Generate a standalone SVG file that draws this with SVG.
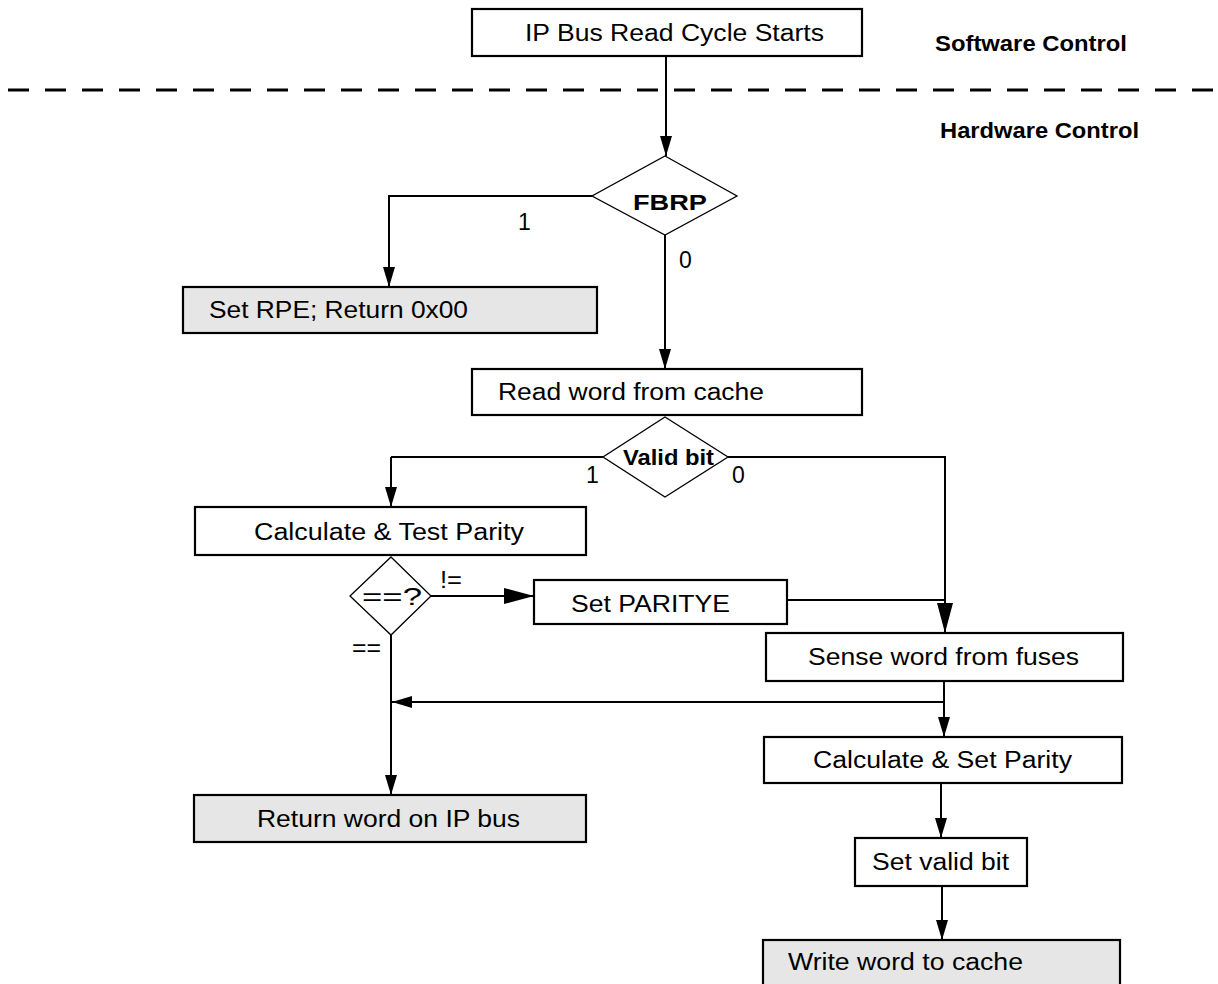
<svg xmlns="http://www.w3.org/2000/svg" width="1218" height="984" viewBox="0 0 1218 984">
<style>
.box{fill:#ffffff;stroke:#000;stroke-width:2.2}
.gray{fill:#e6e6e6;stroke:#000;stroke-width:2.2}
.dia{fill:#ffffff;stroke:#000;stroke-width:1.3}
.c{fill:none;stroke:#000;stroke-width:2}
.t{font-family:"Liberation Sans",Arial,sans-serif;font-size:23px;fill:#000}
.b{font-family:"Liberation Sans",Arial,sans-serif;font-size:22px;font-weight:bold;fill:#000}
</style>
<defs>
<marker id="a" markerUnits="userSpaceOnUse" markerWidth="20" markerHeight="12" refX="20" refY="6" orient="auto"><path d="M0,0 L20,6 L0,12 z" fill="#000"/></marker>
<marker id="A" markerUnits="userSpaceOnUse" markerWidth="30" markerHeight="16" refX="30" refY="8" orient="auto"><path d="M0,0 L30,8 L0,16 z" fill="#000"/></marker>
</defs>
<rect width="1218" height="984" fill="#fff"/>
<line x1="8" y1="90" x2="1218" y2="90" stroke="#000" stroke-width="3" stroke-dasharray="21 16"/>
<text class="b" x="935" y="51" textLength="192" lengthAdjust="spacingAndGlyphs">Software Control</text>
<text class="b" x="940" y="138" textLength="199" lengthAdjust="spacingAndGlyphs">Hardware Control</text>
<g id="connectors">
<path class="c" d="M666,56 V156" marker-end="url(#a)"/>
<path class="c" d="M592,196 H389 V287" marker-end="url(#a)"/>
<path class="c" d="M665,235 V369" marker-end="url(#a)"/>
<path class="c" d="M603,457 H391" stroke-width="1.3"/>
<path class="c" d="M391,457 V507" marker-end="url(#a)"/>
<path class="c" d="M728,457 H945 V633" marker-end="url(#A)"/>
<path class="c" d="M431,596 H534" marker-end="url(#A)"/>
<path class="c" d="M787,600 H945"/>
<path class="c" d="M944,681 V737" marker-end="url(#a)"/>
<path class="c" d="M944,702 H392" marker-end="url(#a)"/>
<path class="c" d="M391,635 V795" marker-end="url(#a)"/>
<path class="c" d="M941,783 V838" marker-end="url(#a)"/>
<path class="c" d="M942,886 V940" marker-end="url(#a)"/>
<text class="t" x="518" y="230">1</text>
<text class="t" x="679" y="268">0</text>
<text class="t" x="586" y="483">1</text>
<text class="t" x="732" y="483">0</text>
<text class="t" x="440" y="588" textLength="22" lengthAdjust="spacingAndGlyphs">!=</text>
<text class="t" x="352" y="656" textLength="29" lengthAdjust="spacingAndGlyphs">==</text>
</g>
<g id="start"><rect class="box" x="472" y="9" width="390" height="47"/><text class="t" x="525" y="41" textLength="299" lengthAdjust="spacingAndGlyphs">IP Bus Read Cycle Starts</text></g>
<g id="fbrp"><polygon class="dia" points="665,156 737,196 665,235 592,196"/><text class="b" x="633" y="210" textLength="74" lengthAdjust="spacingAndGlyphs">FBRP</text></g>
<g id="setrpe"><rect class="gray" x="183" y="287" width="414" height="46"/><text class="t" x="209" y="318" textLength="259" lengthAdjust="spacingAndGlyphs">Set RPE; Return 0x00</text></g>
<g id="readcache"><rect class="box" x="472" y="369" width="390" height="46"/><text class="t" x="498" y="400" textLength="266" lengthAdjust="spacingAndGlyphs">Read word from cache</text></g>
<g id="validbit"><polygon class="dia" points="665,417 728,457 665,497 603,457"/><text class="b" x="623" y="465" textLength="91" lengthAdjust="spacingAndGlyphs">Valid bit</text></g>
<g id="calctest"><rect class="box" x="195" y="507" width="391" height="48"/><text class="t" x="254" y="540" textLength="270" lengthAdjust="spacingAndGlyphs">Calculate &amp; Test Parity</text></g>
<g id="eq"><polygon class="dia" points="391,557 431,596 391,635 350,596"/><text class="t" x="362" y="605" textLength="60" lengthAdjust="spacingAndGlyphs">==?</text></g>
<g id="setparitye"><rect class="box" x="534" y="580" width="253" height="44"/><text class="t" x="571" y="612" textLength="159" lengthAdjust="spacingAndGlyphs">Set PARITYE</text></g>
<g id="sense"><rect class="box" x="766" y="633" width="357" height="48"/><text class="t" x="808" y="665" textLength="271" lengthAdjust="spacingAndGlyphs">Sense word from fuses</text></g>
<g id="calcset"><rect class="box" x="764" y="737" width="358" height="46"/><text class="t" x="813" y="768" textLength="259" lengthAdjust="spacingAndGlyphs">Calculate &amp; Set Parity</text></g>
<g id="setvalid"><rect class="box" x="855" y="838" width="172" height="48"/><text class="t" x="872" y="870" textLength="137" lengthAdjust="spacingAndGlyphs">Set valid bit</text></g>
<g id="writecache"><rect class="gray" x="763" y="940" width="357" height="60"/><text class="t" x="788" y="970" textLength="235" lengthAdjust="spacingAndGlyphs">Write word to cache</text></g>
<g id="returnword"><rect class="gray" x="194" y="795" width="392" height="47"/><text class="t" x="257" y="827" textLength="263" lengthAdjust="spacingAndGlyphs">Return word on IP bus</text></g>
</svg>
